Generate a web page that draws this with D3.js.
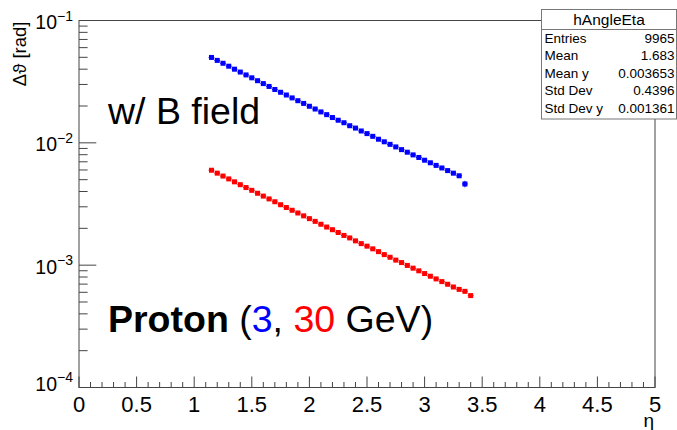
<!DOCTYPE html>
<html>
<head>
<meta charset="utf-8">
<script src="https://cdn.jsdelivr.net/npm/d3@7"></script>
<style>
  body { margin: 0; background: #fff; }
  svg { display: block; font-family: "Liberation Sans", Arial, sans-serif; }
</style>
</head>
<body>
<div id="chart"></div>
<script>
// chart size
var w = 677;
var h = 430;

// bin centres in eta
var etaBins = [1.15, 1.20, 1.25, 1.30, 1.35, 1.40, 1.45, 1.50, 1.55, 1.60,
               1.65, 1.70, 1.75, 1.80, 1.85, 1.90, 1.95, 2.00, 2.05, 2.10,
               2.15, 2.20, 2.25, 2.30, 2.35, 2.40, 2.45, 2.50, 2.55, 2.60,
               2.65, 2.70, 2.75, 2.80, 2.85, 2.90, 2.95, 3.00, 3.05, 3.10,
               3.15, 3.20, 3.25, 3.30, 3.35, 3.40];

// 3 GeV (blue), values in rad
var blueVals = [0.0499, 0.0472, 0.0447, 0.0423, 0.0400, 0.0379, 0.0359, 0.0340, 0.0322, 0.0305,
                0.0289, 0.0273, 0.0259, 0.0246, 0.0233, 0.0221, 0.0210, 0.0199, 0.0189, 0.0179,
                0.0170, 0.0161, 0.0153, 0.0146, 0.0138, 0.0132, 0.0125, 0.0119, 0.0113, 0.0107,
                0.0102, 0.00972, 0.00926, 0.00880, 0.00838, 0.00797, 0.00759, 0.00721, 0.00687, 0.00654,
                0.00623, 0.00593, 0.00565, 0.00538, 0.00461];
// vertical error only visible on the last blue bin
var blueErr = [0, 0, 0, 0, 0, 0, 0, 0, 0, 0, 0, 0, 0, 0, 0, 0, 0, 0, 0, 0, 0, 0,
               0, 0, 0, 0, 0, 0, 0, 0, 0, 0, 0, 0, 0, 0, 0, 0, 0, 0, 0, 0, 0, 0, 0.00028];

// 30 GeV (red)
var redVals = [0.00597, 0.00565, 0.00535, 0.00507, 0.00480, 0.00455, 0.00431, 0.00409, 0.00387, 0.00367,
               0.00348, 0.00330, 0.00312, 0.00296, 0.00281, 0.00267, 0.00253, 0.00240, 0.00228, 0.00216,
               0.00205, 0.00195, 0.00185, 0.00175, 0.00167, 0.00158, 0.00150, 0.00143, 0.00136, 0.00129,
               0.00122, 0.00116, 0.00110, 0.00105, 0.000995, 0.000945, 0.000899, 0.000854, 0.000812, 0.000772,
               0.000734, 0.000698, 0.000663, 0.000634, 0.000611, 0.000564];

var xTicks = [0, 0.5, 1, 1.5, 2, 2.5, 3, 3.5, 4, 4.5, 5];
var yDecades = [1e-4, 1e-3, 1e-2, 1e-1];
var yExponents = ["−4", "−3", "−2", "−1"];

var statNames = ["Entries", "Mean", "Mean y", "Std Dev", "Std Dev y"];
var statValues = ["9965", "1.683", "0.003653", "0.4396", "0.001361"];

// frame edges (window.top is reserved, so use other names)
var padLeft = 79, padRight = 655, padTop = 20.5, padBottom = 387.5;
var binHalf = 0.025;

var xScale = d3.scaleLinear().domain([0, 5]).range([padLeft, padRight]);
var yScale = d3.scaleLog().domain([1e-4, 1e-1]).range([padBottom, padTop]);

var svg = d3.select("#chart").append("svg")
  .attr("width", w)
  .attr("height", h);

var axisColor = "#444";

// frame
svg.append("rect")
  .attr("x", padLeft).attr("y", padTop)
  .attr("width", padRight - padLeft).attr("height", padBottom - padTop)
  .attr("fill", "none")
  .attr("stroke", axisColor)
  .attr("stroke-width", 1);

// x ticks (pointing up into the frame)
var xMinor = d3.range(0, 51).map(function(i) { return i / 10; });
svg.append("g").selectAll("line")
  .data(xMinor)
  .join("line")
  .attr("x1", function(d) { return xScale(d); })
  .attr("x2", function(d) { return xScale(d); })
  .attr("y1", padBottom)
  .attr("y2", function(d, i) { return i % 5 == 0 ? padBottom - 11 : padBottom - 5.5; })
  .attr("stroke", axisColor);

svg.append("g").selectAll("text")
  .data(xTicks)
  .join("text")
  .attr("x", function(d) { return xScale(d); })
  .attr("y", 412)
  .attr("text-anchor", "middle")
  .attr("font-size", 22)
  .text(function(d) { return d; });

// y ticks, log scale
var yMinor = [];
[1e-4, 1e-3, 1e-2].forEach(function(dec) {
  for (var k = 2; k <= 9; k++) yMinor.push(dec * k);
});
svg.append("g").selectAll("line")
  .data(yMinor)
  .join("line")
  .attr("x1", padLeft).attr("x2", padLeft + 8.6)
  .attr("y1", function(d) { return yScale(d); })
  .attr("y2", function(d) { return yScale(d); })
  .attr("stroke", axisColor);

svg.append("g").selectAll("line")
  .data(yDecades)
  .join("line")
  .attr("x1", padLeft).attr("x2", padLeft + 17.3)
  .attr("y1", function(d) { return yScale(d); })
  .attr("y2", function(d) { return yScale(d); })
  .attr("stroke", axisColor);

var yLab = svg.append("g").selectAll("text")
  .data(yDecades)
  .join("text")
  .attr("x", 73)
  .attr("y", function(d, i) { return yScale(d) + (i == 0 ? 3 : 8.5); })
  .attr("text-anchor", "end")
  .attr("font-size", 19.5);
yLab.append("tspan").text("10");
yLab.append("tspan")
  .attr("dy", -8.5)
  .attr("font-size", 14)
  .text(function(d, i) { return yExponents[i]; });

// axis titles
svg.append("text")
  .attr("transform", "translate(26," + (padTop + 1) + ") rotate(-90)")
  .attr("text-anchor", "end")
  .attr("font-size", 18.5)
  .text("Δϑ [rad]");

svg.append("text")
  .attr("x", padRight - 1)
  .attr("y", 427)
  .attr("text-anchor", "end")
  .attr("font-size", 19)
  .text("η");

// draw one series: bin-width bars, error bars, square markers
function drawSeries(vals, errs, color) {
  var pts = vals.map(function(v, i) {
    return { eta: etaBins[i], val: v, err: errs ? errs[i] : 0 };
  });
  var g = svg.append("g");

  g.selectAll("line.bin")
    .data(pts)
    .join("line")
    .attr("class", "bin")
    .attr("x1", function(d) { return xScale(d.eta - binHalf); })
    .attr("x2", function(d) { return xScale(d.eta + binHalf); })
    .attr("y1", function(d) { return yScale(d.val); })
    .attr("y2", function(d) { return yScale(d.val); })
    .attr("stroke", color)
    .attr("stroke-width", 1);

  g.selectAll("line.err")
    .data(pts.filter(function(d) { return d.err > 0; }))
    .join("line")
    .attr("class", "err")
    .attr("x1", function(d) { return xScale(d.eta); })
    .attr("x2", function(d) { return xScale(d.eta); })
    .attr("y1", function(d) { return yScale(d.val - d.err); })
    .attr("y2", function(d) { return yScale(d.val + d.err); })
    .attr("stroke", color)
    .attr("stroke-width", 1);

  g.selectAll("rect")
    .data(pts)
    .join("rect")
    .attr("x", function(d) { return xScale(d.eta) - 2.5; })
    .attr("y", function(d) { return yScale(d.val) - 2.5; })
    .attr("width", 5)
    .attr("height", 5)
    .attr("fill", color);
}

drawSeries(blueVals, blueErr, "#0000ff");
drawSeries(redVals, null, "#ff0000");

// annotations
svg.append("text")
  .attr("x", 108)
  .attr("y", 124)
  .attr("font-size", 37.5)
  .text("w/ B field");

var ann = svg.append("text")
  .attr("x", 108)
  .attr("y", 331.5)
  .attr("font-size", 37.5);
ann.append("tspan").attr("font-weight", "bold").text("Proton");
ann.append("tspan").text(" (");
ann.append("tspan").attr("fill", "#0000ff").text("3");
ann.append("tspan").text(", ");
ann.append("tspan").attr("fill", "#ff0000").text("30");
ann.append("tspan").text(" GeV)");

// stats box
var bx = 541.5, by = 9.5, bw = 135, bh = 109.5;
var stats = svg.append("g");
stats.append("rect")
  .attr("x", bx).attr("y", by)
  .attr("width", bw).attr("height", bh)
  .attr("fill", "#fff")
  .attr("stroke", "#777");
stats.append("line")
  .attr("x1", bx).attr("x2", bx + bw)
  .attr("y1", 29.5).attr("y2", 29.5)
  .attr("stroke", "#777");
stats.append("text")
  .attr("x", bx + bw / 2)
  .attr("y", 24.5)
  .attr("text-anchor", "middle")
  .attr("font-size", 15.5)
  .text("hAngleEta");
stats.selectAll("text.name")
  .data(statNames)
  .join("text")
  .attr("class", "name")
  .attr("x", bx + 3)
  .attr("y", function(d, i) { return 42.5 + i * 17.5; })
  .attr("font-size", 13.5)
  .text(function(d) { return d; });
stats.selectAll("text.val")
  .data(statValues)
  .join("text")
  .attr("class", "val")
  .attr("x", bx + bw - 2)
  .attr("y", function(d, i) { return 42.5 + i * 17.5; })
  .attr("text-anchor", "end")
  .attr("font-size", 13.5)
  .text(function(d) { return d; });
</script>
</body>
</html>
